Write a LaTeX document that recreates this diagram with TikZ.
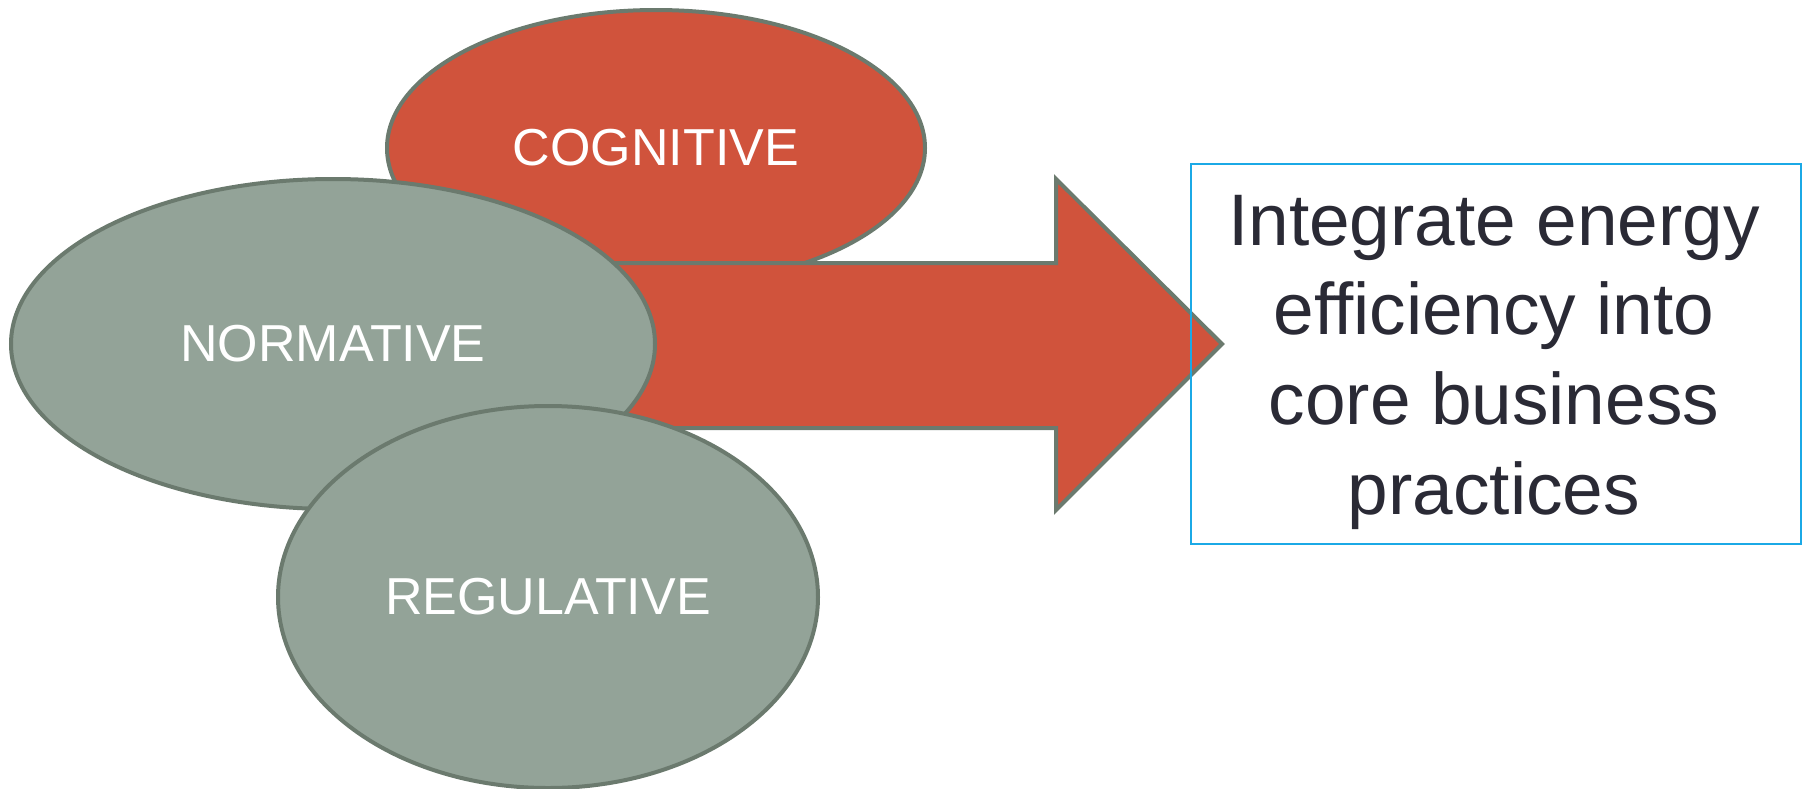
\documentclass[tikz,border=0pt]{standalone}
\usepackage{fontspec}
\setmainfont{Liberation Sans}
\usetikzlibrary{shapes.geometric}
\definecolor{redfill}{HTML}{D0533C}
\definecolor{grayfill}{HTML}{93A398}
\definecolor{edgegray}{HTML}{6B7A6E}
\definecolor{boxcyan}{HTML}{1BA9E6}
\definecolor{darktext}{HTML}{2A2A35}
\tikzset{
  oval/.style={ellipse, draw=edgegray, line width=4pt, inner sep=0pt,
    text=white, font=\fontsize{52}{60}\selectfont},
  redoval/.style={oval, fill=redfill},
  grayoval/.style={oval, fill=grayfill},
  bigarrow/.style={draw=edgegray, fill=redfill, line width=4pt, line join=miter},
  goalbox/.style={draw=boxcyan, line width=1.3pt, rectangle, inner sep=0pt},
  goalstyle/.style={text=darktext, align=center, inner sep=0pt,
    font=\fontsize{73}{89.6}\selectfont}
}
\begin{document}
\begin{tikzpicture}[x=1pt,y=-1pt]
\useasboundingbox (0,0) rectangle (1808,788);
\node[redoval, minimum width=538pt, minimum height=276pt] (cog) at (656,148) {COGNITIVE};
\coordinate (a1) at (560,263);
\coordinate (a2) at (1056,263);
\coordinate (a3) at (1056,179);
\coordinate (tip) at (1222,344);
\coordinate (a5) at (1056,510);
\coordinate (a6) at (1056,428);
\coordinate (a7) at (560,428);
\draw[bigarrow] (a1) -- (a2) -- (a3) -- (tip) -- (a5) -- (a6) -- (a7) -- cycle;
\node[grayoval, minimum width=644pt, minimum height=330pt] (norm) at (333,344) {NORMATIVE};
\node[grayoval, minimum width=540pt, minimum height=382pt] (reg) at (548,597) {REGULATIVE};
\node[goalbox, minimum width=610pt, minimum height=380pt] (goal) at (1496,354) {};
\node[goalstyle, anchor=base] (goaltext) at (1494,514)
  {Integrate energy\\efficiency into\\core business\\practices};
\end{tikzpicture}
\end{document}
